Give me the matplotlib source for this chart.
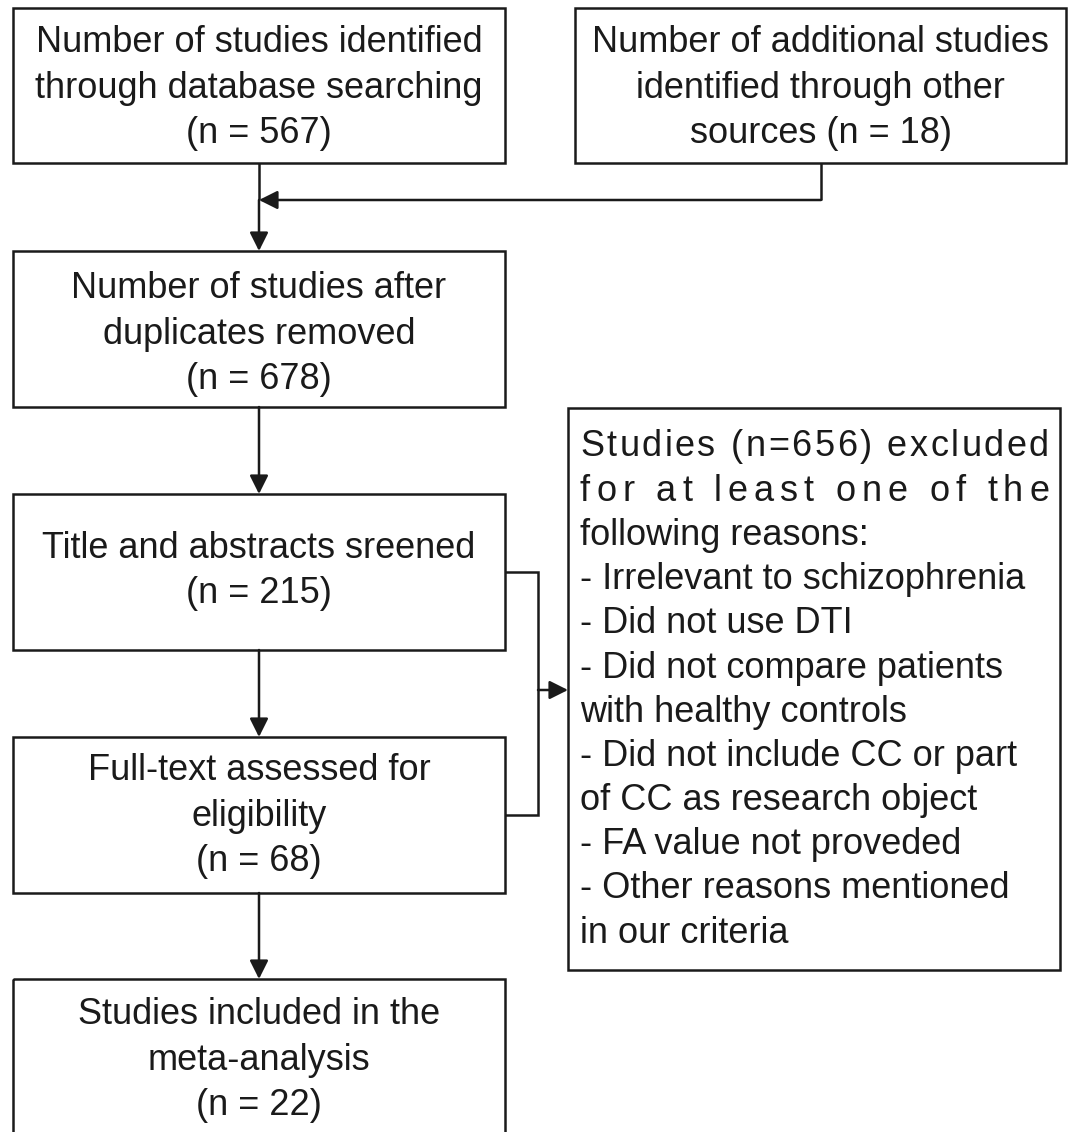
import matplotlib
matplotlib.use('Agg')
import matplotlib.pyplot as plt
from matplotlib.patches import Rectangle

plt.rcParams['font.family'] = ['Liberation Sans', 'DejaVu Sans']

# Box texts
box_texts = [
    "Number of studies identified\nthrough database searching\n(n = 567)",
    "Number of additional studies\nidentified through other\nsources (n = 18)",
    "Number of studies after\nduplicates removed\n(n = 678)",
    "Title and abstracts sreened\n(n = 215)",
    "Full-text assessed for\neligibility\n(n = 68)",
    "Studies included in the\nmeta-analysis\n(n = 22)",
]
excluded_lines = [
    "Studies (n=656) excluded",
    "for at least one of the",
    "following reasons:",
    "- Irrelevant to schizophrenia",
    "- Did not use DTI",
    "- Did not compare patients",
    "with healthy controls",
    "- Did not include CC or part",
    "of CC as research object",
    "- FA value not proveded",
    "- Other reasons mentioned",
    "in our criteria",
]
justified = [True, True] + [False] * 10

# Layout in pixels (x0, y0, x1, y1), y downwards
boxes = [
    (13, 8, 505, 163),
    (575, 8, 1066, 163),
    (13, 251, 505, 407),
    (13, 494, 505, 650),
    (13, 737, 505, 893),
    (13, 979, 505, 1140),
]
text_centers = [88, 88, 334, 571, 816, 1060]
side_box = (568, 408, 1060, 970)

W, H = 1069, 1132
fig = plt.figure(figsize=(W / 100, H / 100), dpi=100)
ax = fig.add_axes([0, 0, 1, 1])
ax.set_xlim(0, W)
ax.set_ylim(H, 0)
ax.axis('off')

lw = 1.8
fs = 26
col = '#1a1a1a'

for (x0, y0, x1, y1), txt, cy in zip(boxes, box_texts, text_centers):
    ax.add_patch(Rectangle((x0, y0), x1 - x0, y1 - y0, fill=False, lw=lw, ec=col))
    ax.text((x0 + x1) / 2, cy, txt, ha='center', va='center', fontsize=fs,
            color=col, linespacing=1.4)

x0, y0, x1, y1 = side_box
ax.add_patch(Rectangle((x0, y0), x1 - x0, y1 - y0, fill=False, lw=lw, ec=col))

fig.canvas.draw()
renderer = fig.canvas.get_renderer()

def width_px(s):
    t = ax.text(0, 0, s, fontsize=fs)
    bb = t.get_window_extent(renderer)
    t.remove()
    return bb.width

tx_left, tx_right = 580, 1049
line_y0, line_dy = 447, 44.2
for i, (line, just) in enumerate(zip(excluded_lines, justified)):
    y = line_y0 + i * line_dy
    if not just:
        ax.text(tx_left, y, line, ha='left', va='center', fontsize=fs, color=col)
        continue
    widths = [width_px(c) if c != ' ' else width_px('a a') - width_px('aa') for c in line]
    extra = (tx_right - tx_left - sum(widths)) / (len(line) - 1)
    x = tx_left
    for c, w in zip(line, widths):
        ax.text(x, y, c, ha='left', va='center', fontsize=fs, color=col)
        x += w + extra

arrow_kw = dict(arrowstyle='-|>', lw=lw, color=col, mutation_scale=28,
                shrinkA=0, shrinkB=0)

def arrow(xa, ya, xb, yb):
    ax.annotate('', xy=(xb, yb), xytext=(xa, ya), arrowprops=arrow_kw)

def line(xs, ys):
    ax.plot(xs, ys, color=col, lw=lw, solid_capstyle='butt', solid_joinstyle='miter')

# merge of the two top boxes
line([259, 259], [163, 200])
arrow(259, 200, 259, 251)
line([821, 821], [163, 200])
arrow(821, 200, 259, 200)

# vertical flow
arrow(259, 407, 259, 494)
arrow(259, 650, 259, 737)
arrow(259, 893, 259, 979)

# bracket to excluded box
line([505, 538, 538, 505], [572, 572, 815, 815])
arrow(538, 690, 568, 690)

fig.savefig('out.png', dpi=100)
